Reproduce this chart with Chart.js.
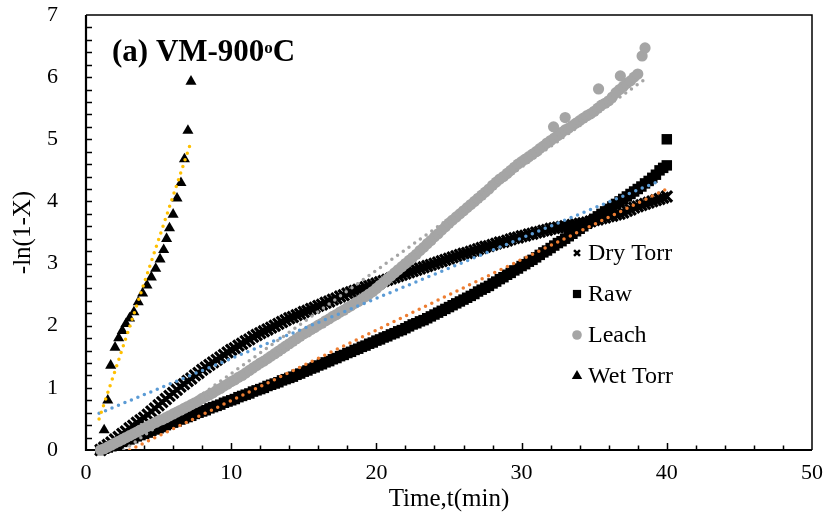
<!DOCTYPE html>
<html>
<head>
<meta charset="utf-8">
<script src="https://cdn.jsdelivr.net/npm/chart.js@4.4.0/dist/chart.umd.min.js"></script>
<style>
    html, body { margin: 0; padding: 0; background: #fff; }
</style>
</head>
<body>
<canvas id="chart" width="830" height="522"></canvas>
<script>
// Sampling times (min) shared by the dense series
const timeMin = [
    1, 1.25, 1.5, 1.75, 2, 2.25, 2.5, 2.75, 3, 3.25, 3.5, 3.75, 4, 4.25, 4.5, 4.75,
    5, 5.25, 5.5, 5.75, 6, 6.25, 6.5, 6.75, 7, 7.25, 7.5, 7.75, 8, 8.25, 8.5, 8.75,
    9, 9.25, 9.5, 9.75, 10, 10.25, 10.5, 10.75, 11, 11.25, 11.5, 11.75, 12, 12.25, 12.5, 12.75,
    13, 13.25, 13.5, 13.75, 14, 14.25, 14.5, 14.75, 15, 15.25, 15.5, 15.75, 16, 16.25, 16.5, 16.75,
    17, 17.25, 17.5, 17.75, 18, 18.25, 18.5, 18.75, 19, 19.25, 19.5, 19.75, 20, 20.25, 20.5, 20.75,
    21, 21.25, 21.5, 21.75, 22, 22.25, 22.5, 22.75, 23, 23.25, 23.5, 23.75, 24, 24.25, 24.5, 24.75,
    25, 25.25, 25.5, 25.75, 26, 26.25, 26.5, 26.75, 27, 27.25, 27.5, 27.75, 28, 28.25, 28.5, 28.75,
    29, 29.25, 29.5, 29.75, 30, 30.25, 30.5, 30.75, 31, 31.25, 31.5, 31.75, 32, 32.25, 32.5, 32.75,
    33, 33.25, 33.5, 33.75, 34, 34.25, 34.5, 34.75, 35, 35.25, 35.5, 35.75, 36, 36.25, 36.5, 36.75,
    37, 37.25, 37.5, 37.75, 38, 38.25, 38.5, 38.75, 39, 39.25, 39.5, 39.75, 40];

const dryTorr = [
    0.00, 0.04, 0.08, 0.12, 0.17, 0.21, 0.26, 0.30, 0.35, 0.39, 0.44, 0.48, 0.52, 0.57, 0.62, 0.67,
    0.72, 0.77, 0.82, 0.87, 0.92, 0.97, 1.02, 1.06, 1.11, 1.15, 1.20, 1.24, 1.29, 1.33, 1.37, 1.41,
    1.45, 1.49, 1.53, 1.57, 1.61, 1.64, 1.68, 1.71, 1.75, 1.78, 1.82, 1.85, 1.88, 1.91, 1.94, 1.97,
    2.00, 2.03, 2.06, 2.09, 2.12, 2.14, 2.17, 2.19, 2.22, 2.24, 2.27, 2.29, 2.32, 2.34, 2.37, 2.39,
    2.42, 2.44, 2.47, 2.49, 2.52, 2.54, 2.56, 2.58, 2.60, 2.62, 2.64, 2.66, 2.68, 2.70, 2.72, 2.74,
    2.76, 2.78, 2.80, 2.82, 2.84, 2.86, 2.88, 2.90, 2.92, 2.94, 2.96, 2.98, 3.00, 3.02, 3.04, 3.06,
    3.08, 3.10, 3.12, 3.14, 3.16, 3.17, 3.19, 3.21, 3.23, 3.25, 3.27, 3.28, 3.30, 3.32, 3.34, 3.35,
    3.37, 3.39, 3.41, 3.42, 3.44, 3.45, 3.47, 3.48, 3.50, 3.51, 3.53, 3.54, 3.56, 3.57, 3.58, 3.59,
    3.60, 3.61, 3.62, 3.63, 3.64, 3.65, 3.66, 3.68, 3.70, 3.71, 3.73, 3.74, 3.76, 3.77, 3.79, 3.80,
    3.82, 3.85, 3.87, 3.90, 3.92, 3.94, 3.96, 3.98, 4.00, 4.02, 4.04, 4.06, 4.08];

const rawTime = timeMin.concat([40]);
const raw = [
    0.00, 0.02, 0.04, 0.06, 0.08, 0.10, 0.13, 0.15, 0.17, 0.19, 0.22, 0.24, 0.26, 0.28, 0.31, 0.33,
    0.35, 0.37, 0.40, 0.42, 0.44, 0.46, 0.49, 0.51, 0.53, 0.55, 0.58, 0.60, 0.62, 0.64, 0.67, 0.69,
    0.71, 0.73, 0.76, 0.78, 0.80, 0.82, 0.85, 0.87, 0.89, 0.91, 0.94, 0.96, 0.98, 1.00, 1.03, 1.05,
    1.07, 1.09, 1.12, 1.14, 1.16, 1.18, 1.21, 1.23, 1.26, 1.28, 1.31, 1.33, 1.36, 1.38, 1.41, 1.43,
    1.46, 1.48, 1.51, 1.53, 1.56, 1.58, 1.61, 1.63, 1.66, 1.68, 1.71, 1.73, 1.76, 1.78, 1.81, 1.83,
    1.86, 1.88, 1.91, 1.93, 1.96, 1.99, 2.02, 2.04, 2.07, 2.09, 2.12, 2.15, 2.18, 2.21, 2.24, 2.27,
    2.30, 2.33, 2.36, 2.39, 2.42, 2.45, 2.48, 2.51, 2.55, 2.58, 2.61, 2.64, 2.68, 2.71, 2.75, 2.78,
    2.82, 2.85, 2.89, 2.92, 2.96, 2.99, 3.03, 3.06, 3.10, 3.14, 3.18, 3.21, 3.25, 3.29, 3.33, 3.36,
    3.40, 3.44, 3.48, 3.52, 3.56, 3.60, 3.64, 3.68, 3.72, 3.76, 3.80, 3.84, 3.88, 3.92, 3.96, 4.00,
    4.04, 4.08, 4.12, 4.16, 4.20, 4.24, 4.29, 4.33, 4.38, 4.43, 4.50, 4.54, 4.58,
    5.00];

const leachTime = timeMin.slice(0, 149).concat([38.3, 38.5, 32.2, 33.0, 35.3, 36.8]);
const leach = [
    0.00, 0.02, 0.05, 0.08, 0.11, 0.14, 0.17, 0.20, 0.23, 0.26, 0.29, 0.32, 0.35, 0.38, 0.41, 0.44,
    0.47, 0.49, 0.52, 0.55, 0.58, 0.61, 0.64, 0.67, 0.70, 0.73, 0.76, 0.79, 0.83, 0.86, 0.89, 0.92,
    0.96, 0.99, 1.03, 1.06, 1.10, 1.13, 1.17, 1.20, 1.24, 1.28, 1.32, 1.36, 1.40, 1.43, 1.47, 1.51,
    1.55, 1.59, 1.63, 1.67, 1.71, 1.75, 1.79, 1.83, 1.87, 1.90, 1.94, 1.97, 2.01, 2.04, 2.08, 2.11,
    2.15, 2.18, 2.22, 2.25, 2.29, 2.32, 2.36, 2.39, 2.43, 2.47, 2.51, 2.55, 2.60, 2.65, 2.70, 2.75,
    2.80, 2.85, 2.90, 2.95, 3.00, 3.05, 3.10, 3.15, 3.21, 3.26, 3.32, 3.37, 3.43, 3.48, 3.54, 3.59,
    3.65, 3.70, 3.75, 3.80, 3.85, 3.90, 3.95, 4.00, 4.05, 4.10, 4.15, 4.20, 4.26, 4.31, 4.36, 4.40,
    4.45, 4.50, 4.55, 4.60, 4.64, 4.68, 4.72, 4.76, 4.80, 4.85, 4.89, 4.94, 4.98, 5.02, 5.06, 5.11,
    5.15, 5.18, 5.22, 5.26, 5.30, 5.34, 5.38, 5.41, 5.45, 5.50, 5.55, 5.58, 5.62, 5.68, 5.75, 5.80,
    5.85, 5.90, 5.94, 6.00, 6.05,
    6.34, 6.47, 5.20, 5.35, 5.81, 6.02];

const wetTime = [1.0, 1.25, 1.5, 1.7, 2.0, 2.25, 2.5, 2.75, 3.0, 3.3, 3.6, 3.9, 4.2, 4.5, 4.8, 5.1, 5.35, 5.55, 5.75, 6.0, 6.27, 6.54, 6.78, 7.02, 7.23];
const wetTorr = [0.00, 0.32, 0.80, 1.36, 1.65, 1.80, 1.92, 2.03, 2.12, 2.22, 2.38, 2.52, 2.65, 2.78, 2.92, 3.07, 3.22, 3.40, 3.57, 3.79, 4.05, 4.30, 4.68, 5.14, 5.93];

// Linear trendlines (end points)
const fitDryX = [0.9, 39.5], fitDryY = [0.59, 4.33];
const fitRawX = [3.0, 40.0], fitRawY = [0.00, 4.20];
const fitLeachX = [2.6, 38.4], fitLeachY = [0.00, 5.95];
const fitWetX = [0.9, 7.25], fitWetY = [0.50, 4.97];

const xTickLabels = [0, 10, 20, 30, 40, 50];
const yTickLabels = [0, 1, 2, 3, 4, 5, 6, 7];
const legendNames = ["Dry Torr", "Raw", "Leach", "Wet Torr"];

const SERIF = "'Liberation Serif', 'Times New Roman', serif";

function pts(xs, ys) {
    return xs.map((x, i) => ({ x: x, y: ys[i] }));
}

function fitLine(label, xs, ys, color) {
    return {
        label: label,
        data: pts(xs, ys),
        showLine: true,
        pointRadius: 0,
        borderColor: color,
        borderWidth: 3.5,
        borderDash: [0, 7],
        borderCapStyle: "round",
        order: 0,
    };
}

// Frame and inside tick marks
const framePlugin = {
    id: "frame",
    beforeDatasetsDraw(chart) {
        const ctx = chart.ctx;
        const a = chart.chartArea;
        const xs = chart.scales.x, ys = chart.scales.y;
        ctx.save();
        ctx.strokeStyle = "#000";
        ctx.lineWidth = 1.5;
        ctx.beginPath();
        ctx.moveTo(a.left, a.top);
        ctx.lineTo(a.right, a.top);
        ctx.lineTo(a.right, a.bottom);
        ctx.stroke();

        ctx.beginPath();
        for (let v = 2; v < 50; v += 2) {
            const px = Math.round(xs.getPixelForValue(v)) + 0.5;
            const len = v % 10 === 0 ? 7 : 4.5;
            ctx.moveTo(px, a.bottom);
            ctx.lineTo(px, a.bottom - len);
        }
        for (let k = 1; k < 35; k++) {
            const py = Math.round(ys.getPixelForValue(k * 0.2)) + 0.5;
            ctx.moveTo(a.left, py);
            ctx.lineTo(a.left + 6, py);
        }
        ctx.stroke();

        ctx.lineWidth = 2.2;
        ctx.beginPath();
        ctx.moveTo(a.left, a.top);
        ctx.lineTo(a.left, a.bottom);
        ctx.lineTo(a.right, a.bottom);
        ctx.stroke();
        ctx.restore();
    },
};

// Legend inside the plot and the panel title
const overlayPlugin = {
    id: "overlay",
    afterDraw(chart) {
        const ctx = chart.ctx;
        const a = chart.chartArea;
        ctx.save();
        const mx = a.left + 491, tx = a.left + 502;
        const legendSize = { "Dry Torr": 4.2, "Raw": 5.8, "Leach": 4.8, "Wet Torr": 6 };
        legendNames.forEach((name, i) => {
            const ds = chart.data.datasets.find((d) => d.label === name);
            const y = a.top + 238 + i * 41;
            const bw = ds.pointStyle === "crossRot" ? 2.5 : 0;
            ctx.fillStyle = ds.backgroundColor;
            ctx.strokeStyle = ds.borderColor;
            ctx.lineWidth = bw;
            Chart.helpers.drawPoint(ctx, {
                pointStyle: ds.pointStyle,
                radius: legendSize[name],
                rotation: 0,
                borderWidth: bw,
            }, mx, y);
            ctx.fillStyle = "#000";
            ctx.font = "24px " + SERIF;
            ctx.textBaseline = "middle";
            ctx.textAlign = "left";
            ctx.fillText(name, tx, y + 1);
        });

        // "(a) VM-900oC" with a raised small o
        ctx.fillStyle = "#000";
        ctx.textBaseline = "alphabetic";
        ctx.font = "bold 31px " + SERIF;
        const base = a.top + 46;
        let x = a.left + 26;
        const main = "(a) VM-900";
        ctx.fillText(main, x, base);
        x += ctx.measureText(main).width;
        ctx.font = "bold 17px " + SERIF;
        ctx.fillText("o", x, base - 8);
        x += ctx.measureText("o").width;
        ctx.font = "bold 31px " + SERIF;
        ctx.fillText("C", x, base);
        ctx.restore();
    },
};

const contexto = document.getElementById("chart");
const chart = new Chart(contexto, {
    type: "scatter",
    data: {
        datasets: [
            fitLine("Wet Torr trend", fitWetX, fitWetY, "#FFC000"),
            fitLine("Dry Torr trend", fitDryX, fitDryY, "#5B9BD5"),
            fitLine("Raw trend", fitRawX, fitRawY, "#ED7D31"),
            fitLine("Leach trend", fitLeachX, fitLeachY, "#A5A5A5"),
            {
                label: "Leach",
                data: pts(leachTime, leach),
                pointStyle: "circle",
                pointRadius: 5.6,
                backgroundColor: "#A5A5A5",
                borderColor: "#A5A5A5",
                borderWidth: 0,
                clip: 12,
                order: 1,
            },
            {
                label: "Wet Torr",
                data: pts(wetTime, wetTorr),
                pointStyle: "triangle",
                pointRadius: 6.4,
                backgroundColor: "#000",
                borderColor: "#000",
                borderWidth: 0,
                clip: 12,
                order: 1,
            },
            {
                label: "Dry Torr",
                data: pts(timeMin, dryTorr),
                pointStyle: "crossRot",
                pointRadius: 7.5,
                backgroundColor: "#000",
                borderColor: "#000",
                borderWidth: 3.2,
                clip: 12,
                order: 2,
            },
            {
                label: "Raw",
                data: pts(rawTime, raw),
                pointStyle: "rect",
                pointRadius: 7.4,
                backgroundColor: "#000",
                borderColor: "#000",
                borderWidth: 0,
                clip: 12,
                order: 3,
            },
        ],
    },
    options: {
        responsive: false,
        animation: false,
        devicePixelRatio: 1,
        layout: { padding: { top: 15, right: 18, left: 0, bottom: 0 } },
        plugins: {
            legend: { display: false },
            tooltip: { enabled: false },
        },
        scales: {
            x: {
                type: "linear",
                min: 0,
                max: 50,
                afterFit: (s) => { s.height = 72; },
                afterBuildTicks: (s) => { s.ticks = xTickLabels.map((v) => ({ value: v })); },
                grid: { display: false },
                border: { display: false },
                ticks: { font: { family: SERIF, size: 22 }, color: "#000", padding: 2, maxRotation: 0 },
                title: {
                    display: true,
                    text: "Time,t(min)",
                    font: { family: SERIF, size: 25 },
                    color: "#000",
                    padding: { top: 0, bottom: 8 },
                },
            },
            y: {
                type: "linear",
                min: 0,
                max: 7,
                afterFit: (s) => {
                    s.width = 86;
                    s.paddingTop = 0;
                    s.paddingBottom = 0;
                },
                afterBuildTicks: (s) => { s.ticks = yTickLabels.map((v) => ({ value: v })); },
                grid: { display: false },
                border: { display: false },
                ticks: { font: { family: SERIF, size: 22 }, color: "#000", padding: 20 },
                title: {
                    display: true,
                    text: "-ln(1-X)",
                    font: { family: SERIF, size: 25 },
                    color: "#000",
                    padding: { top: 8, bottom: 0 },
                },
            },
        },
    },
    plugins: [framePlugin, overlayPlugin],
});
</script>
</body>
</html>
